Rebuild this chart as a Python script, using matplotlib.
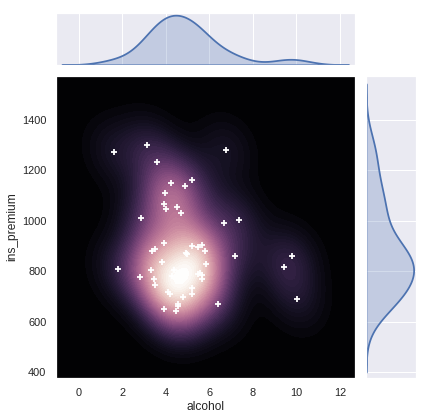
import matplotlib
matplotlib.use("Agg")
import matplotlib.pyplot as plt
import seaborn as sns

# car_crashes dataset (51 states)
states = ["AL", "AK", "AZ", "AR", "CA", "CO", "CT", "DE", "DC", "FL", "GA", "HI", "ID",
          "IL", "IN", "IA", "KS", "KY", "LA", "ME", "MD", "MA", "MI", "MN", "MS", "MO",
          "MT", "NE", "NV", "NH", "NJ", "NM", "NY", "NC", "ND", "OH", "OK", "OR", "PA",
          "RI", "SC", "SD", "TN", "TX", "UT", "VT", "VA", "WA", "WV", "WI", "WY"]
alcohol = [5.64, 4.525, 5.208, 5.824, 3.36, 3.808, 3.888, 4.86, 1.593, 5.191, 3.9,
           7.175, 4.437, 4.352, 4.205, 3.925, 4.272, 4.922, 6.765, 4.53, 4.0, 2.87,
           3.948, 2.784, 5.456, 5.474, 9.416, 5.215, 4.704, 3.48, 3.136, 4.968, 3.567,
           5.208, 10.038, 4.794, 5.771, 3.328, 5.642, 4.218, 9.799, 6.402, 5.655,
           7.372, 1.808, 4.08, 3.429, 3.498, 6.664, 4.554, 5.568]
ins_premium = [784.55, 1053.48, 899.47, 827.34, 878.41, 835.5, 1068.73, 1137.87,
               1273.89, 1160.13, 913.15, 861.18, 641.96, 803.11, 710.46, 649.06,
               780.45, 872.51, 1281.55, 661.88, 1048.78, 1011.14, 1110.61, 777.18,
               896.07, 790.32, 816.21, 732.28, 1029.87, 746.54, 1301.52, 869.85,
               1234.31, 708.24, 688.75, 697.73, 881.51, 804.71, 905.99, 1148.99,
               858.97, 669.31, 767.91, 1004.75, 809.38, 716.2, 768.95, 890.03,
               992.61, 670.31, 791.14]

sns.set_theme(style="darkgrid")
plt.rcParams['font.family'] = ['Liberation Sans', 'DejaVu Sans']

W, H = 429, 420
fig = plt.figure(figsize=(W / 72, H / 72), dpi=72)


def ax_px(l, t, r, b, **kw):
    return fig.add_axes([l / W, 1 - b / H, (r - l) / W, (b - t) / H], **kw)


ax = ax_px(56, 76, 355, 378)
axx = ax_px(55.5, 12.7, 355, 64.7, sharex=ax)
axy = ax_px(366, 76, 416, 378, sharey=ax)

cmap = sns.cubehelix_palette(as_cmap=True, dark=0, light=1, reverse=True)
ax.set_facecolor(cmap(0.0))
sns.kdeplot(x=alcohol, y=ins_premium, ax=ax, fill=True, thresh=0, levels=60,
            cmap=cmap, cut=5)
ax.scatter(alcohol, ins_premium, c="w", s=26, linewidth=1.8, marker="+", zorder=5)
ax.set_xlim(-1.06, 12.69)
ax.set_ylim(376, 1575)
ax.set_xticks([0, 2, 4, 6, 8, 10, 12])
ax.set_yticks([400, 600, 800, 1000, 1200, 1400])
ax.set_xlabel("alcohol")
ax.set_ylabel("ins_premium")

blue = "#4c72b0"
sns.kdeplot(x=alcohol, ax=axx, fill=True, color=blue, linewidth=1.75)
sns.kdeplot(y=ins_premium, ax=axy, fill=True, color=blue, linewidth=1.75)
axx.set_ylim(bottom=0)
axy.set_xlim(left=0)
axx.yaxis.grid(False)
axy.xaxis.grid(False)
plt.setp(axx.get_xticklabels(), visible=False)
plt.setp(axx.get_yticklabels(), visible=False)
plt.setp(axy.get_xticklabels(), visible=False)
plt.setp(axy.get_yticklabels(), visible=False)
for a in (axx, axy):
    a.set_xlabel("")
    a.set_ylabel("")
    a.tick_params(length=0)
ax.set_xlim(-1.06, 12.69)
ax.set_ylim(376, 1575)

fig.savefig("out.png", dpi=72)
